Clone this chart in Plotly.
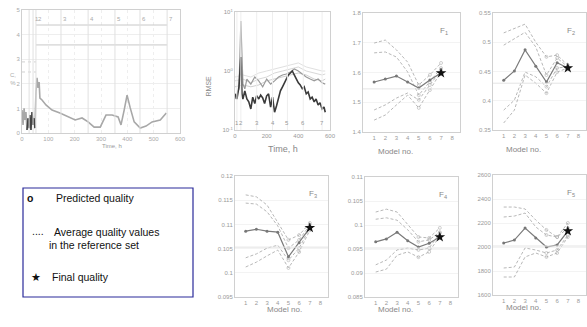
import plotly.graph_objects as go

W, H = 587, 327
FONT = "Liberation Sans"

# ---------------- data ----------------
# top-left: concentration vs time
tl_time = [0, 4, 8, 11, 15, 19, 23, 27, 30, 34, 38, 42, 46, 49, 53, 57, 61, 65, 68, 76, 91, 114, 144,
           175, 202, 228, 251, 274, 297, 319, 342, 365, 376, 388, 399, 411, 426, 449, 471, 494, 525, 548]
tl_val = [0.93, 0.33, 1.0, 0.53, 0.85, 0.12, 0.6, 0.2, 0.73, 0.12, 0.85, 0.33, 0.6, 0.2, 1.67, 2.24, 1.83,
          2.07, 1.42, 1.34, 1.14, 0.93, 0.81, 0.65, 0.53, 0.61, 0.45, 0.24, 0.24, 0.73, 0.73, 0.65, 0.33,
          0.93, 1.54, 1.02, 0.45, 0.2, 0.28, 0.45, 0.53, 0.81]
tl_model_times = [27, 42, 53, 148, 251, 353, 448, 551]
tl_model_labels = ["", "1", "2", "3", "4", "5", "6", "7"]
tl_upper_levels = [4.39, 3.58]
tl_lower_levels = [2.89, 2.48]
tl_level_span = [53, 551]
tl_lower_span = [0, 53]

# top-middle: error vs time (log scale)
b_time = [0, 12, 25, 37, 44, 50, 62, 75, 87, 100, 112, 125, 137, 150, 162, 175, 187, 200, 212, 225, 237,
          250, 262, 275, 287, 300, 312, 325, 337, 350, 362, 375, 387, 400, 412, 425, 437, 450, 462, 475,
          487, 500, 512, 525, 537, 550, 562, 570]
b_dark = [0.41, 0.335, 0.54, 1.73, 0.41, 0.335, 0.46, 0.335, 0.30, 0.227, 0.36, 0.28, 0.38, 0.335, 0.39,
          0.35, 0.28, 0.38, 0.41, 0.245, 0.36, 0.20, 0.255, 0.36, 0.46, 0.54, 0.63, 0.73, 0.855, 0.925,
          1.0, 0.855, 0.73, 0.63, 0.58, 0.50, 0.54, 0.41, 0.44, 0.335, 0.36, 0.30, 0.335, 0.265, 0.29,
          0.227, 0.245, 0.20]
g_time = [0, 12, 25, 37, 50, 62, 75, 100, 125, 150, 175, 200, 225, 250, 275, 300, 325, 350, 375, 400,
          425, 450, 475, 500, 525, 550, 570]
g_val = [0.335, 0.41, 0.50, 7.04, 0.60, 0.50, 0.73, 0.60, 0.79, 0.68, 0.54, 0.73, 0.60, 0.68, 0.79, 0.855,
         0.89, 0.96, 1.08, 1.0, 0.89, 0.79, 0.73, 0.68, 0.73, 0.63, 0.60]
l_time = [0, 50, 100, 150, 200, 250, 300, 350, 400, 450, 500, 550, 570]
l_val1 = [0.68, 0.73, 0.63, 0.73, 0.79, 0.925, 1.0, 1.08, 1.17, 1.0, 0.925, 0.855, 0.89]
l_val2 = [0.54, 0.58, 0.54, 0.58, 0.68, 0.73, 0.79, 0.855, 0.925, 0.855, 0.73, 0.68, 0.73]
l_val3 = [0.79, 0.855, 0.79, 0.925, 1.0, 1.08, 1.17, 1.26, 1.37, 1.17, 1.08, 1.0, 1.0]
b_model_times = [12, 37, 137, 237, 331, 431, 550]
b_model_labels = ["1", "2", "3", "4", "5", "6", "7"]

# model panels
models = [1, 2, 3, 4, 5, 6, 7]
model_ticks = [1, 2, 3, 4, 5, 6, 7, 8]

f1_pred = [1.568, 1.578, 1.588, 1.568, 1.548, 1.575, 1.598]
f1_up1 = [1.699, 1.709, 1.676, 1.635, 1.558, 1.592, 1.632]
f1_up2 = [1.666, 1.669, 1.652, 1.602, 1.524, 1.568, 1.615]
f1_lo1 = [1.474, 1.491, 1.514, 1.531, 1.508, 1.558, 1.608]
f1_lo2 = [1.440, 1.457, 1.491, 1.524, 1.481, 1.541, 1.602]
f1_avg = 1.545
f1_final = 1.598
f1_ticks = [1.4, 1.5, 1.6, 1.7, 1.8]

f2_pred = [0.435, 0.451, 0.487, 0.459, 0.432, 0.465, 0.456]
f2_up1 = [0.516, 0.524, 0.531, 0.500, 0.475, 0.478, 0.461]
f2_up2 = [0.495, 0.506, 0.517, 0.492, 0.444, 0.473, 0.458]
f2_lo1 = [0.384, 0.401, 0.449, 0.441, 0.424, 0.456, 0.458]
f2_lo2 = [0.362, 0.384, 0.444, 0.430, 0.413, 0.449, 0.456]
f2_avg = 0.430
f2_final = 0.456
f2_ticks = [0.35, 0.4, 0.45, 0.5, 0.55]

f3_pred = [0.1086, 0.1090, 0.1086, 0.1084, 0.1033, 0.1062, 0.1093]
f3_up1 = [0.1161, 0.1157, 0.1140, 0.1105, 0.1068, 0.1078, 0.1103]
f3_up2 = [0.1144, 0.1142, 0.1126, 0.1097, 0.1051, 0.1068, 0.1099]
f3_lo1 = [0.1031, 0.1039, 0.1051, 0.1057, 0.1026, 0.1051, 0.1093]
f3_lo2 = [0.1012, 0.1022, 0.1035, 0.1047, 0.1010, 0.1043, 0.1088]
f3_avg = 0.1053
f3_final = 0.1093
f3_ticks = [0.095, 0.1, 0.105, 0.11, 0.115, 0.12]

f4_pred = [0.0965, 0.0971, 0.0985, 0.0967, 0.0954, 0.0962, 0.0975]
f4_up1 = [0.1027, 0.1033, 0.1027, 0.1000, 0.0975, 0.0973, 0.0994]
f4_up2 = [0.1012, 0.1015, 0.1010, 0.0990, 0.0965, 0.0969, 0.0985]
f4_lo1 = [0.0917, 0.0927, 0.0948, 0.0952, 0.0948, 0.0952, 0.0983]
f4_lo2 = [0.0902, 0.0908, 0.0937, 0.0944, 0.0933, 0.0944, 0.0977]
f4_avg = 0.0952
f4_final = 0.0975
f4_ticks = [0.085, 0.09, 0.095, 0.1, 0.105, 0.11]

f5_pred = [2033, 2058, 2158, 2075, 2000, 2017, 2133]
f5_up1 = [2333, 2333, 2317, 2225, 2142, 2083, 2200]
f5_up2 = [2250, 2258, 2283, 2167, 2100, 2083, 2158]
f5_lo1 = [1825, 1833, 1992, 1975, 1950, 1975, 2100]
f5_lo2 = [1750, 1750, 1917, 1950, 1917, 1950, 2083]
f5_avg = 2008
f5_final = 2133
f5_ticks = [1600, 1800, 2000, 2200, 2400, 2600]

panel_names = ["F<sub>1</sub>", "F<sub>2</sub>", "F<sub>3</sub>", "F<sub>4</sub>", "F<sub>5</sub>"]

legend_lines = ["Predicted quality", "Average quality values", "in the reference set", "Final quality"]

# ---------------- layout helpers ----------------
def px_x(p):
    return p / W

def px_y(p):
    return 1 - p / H

TICKFONT = dict(family=FONT, size=6, color="#9a9a9a")
SMALLFONT = dict(family=FONT, size=6, color="#aaa")
AXCOL = "#d0d0d0"
GRIDCOL = "#eeeeee"

fig = go.Figure()
layout = dict(width=W, height=H, margin=dict(l=0, r=0, t=0, b=0, autoexpand=False),
              paper_bgcolor="white", plot_bgcolor="white", showlegend=False,
              font=dict(family=FONT, color="#888"))
annotations = []
shapes = []

def axis(domain, **kw):
    d = dict(domain=domain, showline=True, linecolor=AXCOL, linewidth=1, mirror=True,
             ticks="", tickfont=TICKFONT, gridcolor=GRIDCOL, zeroline=False, ticklen=2,
             automargin=False)
    d.update(kw)
    return d

# ---- panel A: top-left ----
layout["xaxis"] = axis([px_x(22), px_x(180)], range=[0, 600], dtick=100, anchor="y",
                       showgrid=True, griddash="dot", tickfont=SMALLFONT)
layout["yaxis"] = axis([px_y(133), px_y(10)], range=[0, 5], dtick=1, anchor="x", showgrid=True,
                       tickfont=SMALLFONT)
fig.add_trace(go.Scatter(x=tl_time, y=tl_val, mode="lines", xaxis="x", yaxis="y",
                         line=dict(color="#a8a8a8", width=1.6)))
fig.add_trace(go.Scatter(x=tl_time[5:14], y=tl_val[5:14], mode="lines", xaxis="x", yaxis="y",
                         line=dict(color="#444", width=1.5)))
for lv in tl_upper_levels:
    fig.add_trace(go.Scatter(x=tl_level_span, y=[lv, lv], mode="lines", xaxis="x", yaxis="y",
                             line=dict(color="#c8c8c8", width=1)))
for lv in tl_lower_levels:
    fig.add_trace(go.Scatter(x=tl_lower_span, y=[lv, lv], mode="lines", xaxis="x", yaxis="y",
                             line=dict(color="#d0d0d0", width=1, dash="dot")))
for t, lab in zip(tl_model_times, tl_model_labels):
    shapes.append(dict(type="line", xref="x", yref="y domain", x0=t, x1=t, y0=0, y1=1,
                       line=dict(color="#e0e0e0", width=1)))
    if lab:
        annotations.append(dict(x=t, y=px_y(14), xref="x", yref="paper", text=lab, showarrow=False,
                                font=SMALLFONT, xanchor="left"))
annotations.append(dict(x=px_x(100), y=px_y(146), xref="paper", yref="paper", text="Time, h",
                        showarrow=False, font=dict(family=FONT, size=6, color="#999")))
annotations.append(dict(x=px_x(8), y=px_y(70), xref="paper", yref="paper", text="C,<br>%",
                        showarrow=False, font=SMALLFONT))

# ---- panel B: error vs time ----
layout["xaxis2"] = axis([px_x(235), px_x(330)], range=[0, 600], tickvals=[0, 200, 400, 600],
                        anchor="y2", showgrid=False, tickfont=dict(family=FONT, size=6, color="#999"))
layout["yaxis2"] = axis([px_y(130), px_y(12)], type="log", range=[-1, 1], anchor="x2",
                        tickvals=[0.1, 1, 10], ticktext=["10<sup>-1</sup>", "10<sup>0</sup>", "10<sup>1</sup>"],
                        showgrid=False, tickfont=dict(family=FONT, size=6, color="#999"))
for t in b_model_times:
    shapes.append(dict(type="line", xref="x2", yref="y2 domain", x0=t, x1=t, y0=0, y1=1,
                       line=dict(color="#eeeeee", width=1)))
for lv, col in [(l_val1, "#d8d8d8"), (l_val2, "#cfcfcf"), (l_val3, "#e0e0e0")]:
    fig.add_trace(go.Scatter(x=l_time, y=lv, mode="lines", xaxis="x2", yaxis="y2",
                             line=dict(color=col, width=1)))
fig.add_trace(go.Scatter(x=g_time, y=g_val, mode="lines", xaxis="x2", yaxis="y2",
                         line=dict(color="#9a9a9a", width=1.2)))
fig.add_trace(go.Scatter(x=b_time, y=b_dark, mode="lines", xaxis="x2", yaxis="y2",
                         line=dict(color="#3a3a3a", width=1.6)))
for t, lab in zip(b_model_times, b_model_labels):
    annotations.append(dict(x=t, y=px_y(123), xref="x2", yref="paper", text=lab, showarrow=False,
                            font=dict(family=FONT, size=6, color="#999")))
annotations.append(dict(x=px_x(283), y=px_y(149), xref="paper", yref="paper", text="Time, h",
                        showarrow=False, font=dict(family=FONT, size=9, color="#888")))
annotations.append(dict(x=px_x(208), y=px_y(74), xref="paper", yref="paper", text="RMSE",
                        textangle=-90, showarrow=False, font=dict(family=FONT, size=7, color="#888")))

# ---- model panels ----
panels = [
    ("3", [363, 460], [132, 13], f1_ticks, [f1_up1, f1_up2, f1_lo1, f1_lo2], f1_pred, f1_avg, f1_final),
    ("4", [493, 586], [130, 13], f2_ticks, [f2_up1, f2_up2, f2_lo1, f2_lo2], f2_pred, f2_avg, f2_final),
    ("5", [235, 328], [297, 176], f3_ticks, [f3_up1, f3_up2, f3_lo1, f3_lo2], f3_pred, f3_avg, f3_final),
    ("6", [365, 458], [297, 177], f4_ticks, [f4_up1, f4_up2, f4_lo1, f4_lo2], f4_pred, f4_avg, f4_final),
    ("7", [493, 586], [295, 175], f5_ticks, [f5_up1, f5_up2, f5_lo1, f5_lo2], f5_pred, f5_avg, f5_final),
]
for (ax, xd, yd, ticks, dashed, pred, avg, final), name in zip(panels, panel_names):
    xa, ya = "x" + ax, "y" + ax
    layout["xaxis" + ax] = axis([px_x(xd[0]), px_x(xd[1])], range=[0, 8.7], tickvals=model_ticks,
                                anchor=ya, showgrid=False)
    layout["yaxis" + ax] = axis([px_y(yd[0]), px_y(yd[1])], range=[ticks[0], ticks[-1]],
                                tickvals=ticks, anchor=xa, showgrid=True, gridcolor="#f3f3f3")
    shapes.append(dict(type="line", xref=xa + " domain", yref=ya, x0=0, x1=1, y0=avg, y1=avg,
                       line=dict(color="#e4e4e4", width=1)))
    for d in dashed:
        fig.add_trace(go.Scatter(x=models, y=d, mode="lines+markers", xaxis=xa, yaxis=ya,
                                 line=dict(color="#b8b8b8", width=1, dash="3px,2px"),
                                 marker=dict(symbol="circle-open", size=[0, 0, 0, 0, 3, 3, 3],
                                             color="#aaa", line=dict(width=0.8))))
    fig.add_trace(go.Scatter(x=models, y=pred, mode="lines+markers", xaxis=xa, yaxis=ya,
                             line=dict(color="#7a7a7a", width=1.2),
                             marker=dict(symbol="circle", size=3, color="#777")))
    fig.add_trace(go.Scatter(x=[models[-1]], y=[final], mode="markers", xaxis=xa, yaxis=ya,
                             marker=dict(symbol="star", size=8, color="#111")))
    annotations.append(dict(x=0.9, y=0.91, xref=xa + " domain", yref=ya + " domain", text=name,
                            showarrow=False, font=dict(family=FONT, size=8, color="#888")))
    annotations.append(dict(x=px_x((xd[0] + xd[1]) / 2 + 3), y=px_y(yd[0] + 19), xref="paper",
                            yref="paper", text="Model no.", showarrow=False,
                            font=dict(family=FONT, size=8, color="#888")))

# ---- legend box ----
shapes.append(dict(type="rect", xref="paper", yref="paper", x0=px_x(23), x1=px_x(193),
                   y0=px_y(297), y1=px_y(188), line=dict(color="#2a2a9a", width=1.2)))
LF = dict(family=FONT, size=10.5, color="#111")
annotations += [
    dict(x=px_x(30), y=px_y(198), text="<b>o</b>", xanchor="center"),
    dict(x=px_x(54), y=px_y(198), text=legend_lines[0], xanchor="left"),
    dict(x=px_x(38), y=px_y(231), text="....", xanchor="center"),
    dict(x=px_x(52), y=px_y(232), text=legend_lines[1], xanchor="left"),
    dict(x=px_x(47), y=px_y(245), text=legend_lines[2], xanchor="left"),
    dict(x=px_x(36), y=px_y(277), text="★", xanchor="center"),
    dict(x=px_x(50), y=px_y(277), text=legend_lines[3], xanchor="left"),
]
for a in annotations[-7:]:
    a.update(xref="paper", yref="paper", showarrow=False, font=LF, yanchor="middle")

layout["annotations"] = annotations
layout["shapes"] = shapes
fig.update_layout(**layout)
fig.write_html("out.html", config={"displayModeBar": False},
               post_script="document.body.style.margin='0px';document.body.style.overflow='hidden';")
